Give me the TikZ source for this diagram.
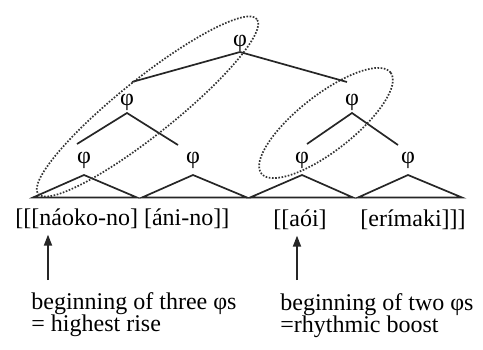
\documentclass[tikz,border=0pt]{standalone}
\usepackage{fontspec}
\setmainfont{Liberation Serif}
\usetikzlibrary{positioning,arrows.meta}

\begin{document}
\begin{tikzpicture}[x=0.5pt,y=-0.5pt,every node/.style={font=\fontsize{12}{11}\selectfont,inner sep=0pt},
    phi/.style={inner sep=0pt},
    branch/.style={line width=0.85pt,draw=black!85},
    span/.style={line width=0.85pt,dash pattern=on 0.8pt off 0.8pt,draw=black!80},
    pointer/.style={line width=0.85pt,draw=black!85,shorten >=3pt,-{Triangle[length=5.5pt,width=4pt]}}]
  \useasboundingbox (0,0) rectangle (483,349);
  % top phrase
  \coordinate (top) at (240,52);
  \coordinate (topl) at (132,82);
  \coordinate (topr) at (347,82);
  \node[phi,above=0pt of top] (phitop) {φ};
  \draw[branch] (topl) -- (top) -- (topr);
  % middle phrases
  \coordinate (midl) at (127,113);
  \coordinate (midr) at (352,113);
  \node[phi,above=1pt of midl] (phimidl) {φ};
  \node[phi,above=1pt of midr] (phimidr) {φ};
  \draw[branch] (77,144) -- (midl) -- (178,145);
  \draw[branch] (307,144) -- (midr) -- (398,145);
  % word triangles
  \coordinate (w1) at (84,175);
  \coordinate (w2) at (193,175);
  \coordinate (w3) at (302,175);
  \coordinate (w4) at (408,175);
  \node[phi,above=3pt of w1] (phiw1) {φ};
  \node[phi,above=3pt of w2] (phiw2) {φ};
  \node[phi,above=3pt of w3] (phiw3) {φ};
  \node[phi,above=3pt of w4] (phiw4) {φ};
  \draw[branch] (33,197.5) -- (w1) -- (137,197.5) -- cycle;
  \draw[branch] (142,197.5) -- (w2) -- (247,197.5) -- cycle;
  \draw[branch] (250,197.5) -- (w3) -- (353,197.5) -- cycle;
  \draw[branch] (358,197.5) -- (w4) -- (462,197.5) -- cycle;
  % dotted groupings
  \draw[span,rotate around={38.6:(147.5,106.5)}] (147.5,106.5) ellipse [x radius=70pt,y radius=14pt];
  \draw[span,rotate around={38:(326,123)}] (326,123) ellipse [x radius=41pt,y radius=14pt];
  % words
  \node[anchor=base west] (naoko) at (15,225) {[[[náoko-no] [áni-no]]};
  \node[anchor=base west] (aoi) at (273,226) {[[aói]};
  \node[anchor=base west] (erimaki) at (360,226) {[erímaki]]]};
  % notes
  \node[anchor=base west] (three) at (31,309) {beginning of three φs};
  \node[anchor=base west] (rise) at ([yshift=-11pt]three.base west) {= highest rise};
  \node[anchor=base west] (two) at (280,310) {beginning of two φs};
  \node[anchor=base west] (boost) at ([yshift=-11pt]two.base west) {=rhythmic boost};
  \coordinate (foot1) at (48,280);
  \coordinate (foot2) at (297,280);
  \draw[pointer] (foot1) -- (foot1 |- naoko.south);
  \draw[pointer] (foot2) -- (foot2 |- aoi.south);
\end{tikzpicture}
\end{document}
